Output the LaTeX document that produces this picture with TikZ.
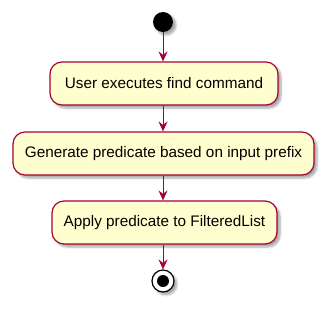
\documentclass[tikz,border=0pt]{standalone}
\usepackage{fontspec}
\setmainfont{Liberation Sans}
\definecolor{umlred}{HTML}{A80036}
\definecolor{umlcream}{HTML}{FEFECE}
\usetikzlibrary{arrows.meta,positioning,shadows.blur}

\tikzset{
  action/.style={draw=umlred, line width=1.2pt, fill=umlcream, rounded corners=12pt,
                 minimum height=43pt, inner sep=0pt, font=\fontsize{15.3}{18}\selectfont,
                 blur shadow={shadow xshift=3pt, shadow yshift=-3pt, shadow blur steps=6, shadow opacity=35}},
  flow/.style={-{Stealth[length=10pt, width=9pt, inset=3.5pt]}, umlred, line width=0.9pt}
}

\begin{document}
\begin{tikzpicture}[x=1pt, y=-1pt]
    \useasboundingbox (0,0) rectangle (327,309);
    % Start point
    \node[circle, fill=black, minimum size=20pt, inner sep=0pt,
          blur shadow={shadow xshift=3pt, shadow yshift=-3pt, shadow blur steps=6, shadow opacity=35}] (start) at (163,22) {};
    % Activities
    \node[action, minimum width=228pt] (exec) at (164,83.5) {User executes find command};
    \node[action, minimum width=301pt] (pred) at (163.5,153.5) {Generate predicate based on input prefix};
    \node[action, minimum width=225pt] (apply) at (164.5,222.5) {Apply predicate to FilteredList};
    % End point
    \node[circle, draw=black, line width=1.2pt, fill=white, minimum size=22pt, inner sep=0pt,
          blur shadow={shadow xshift=3pt, shadow yshift=-3pt, shadow blur steps=6, shadow opacity=35}] (stop) at (163,281) {};
    \node[circle, fill=black, minimum size=12pt, inner sep=0pt] at (stop.center) {};
    % Transitions
    \draw[flow] (start) -- (start |- exec.north);
    \draw[flow] (exec.south -| start) -- (start |- pred.north);
    \draw[flow] (pred.south -| start) -- (start |- apply.north);
    \draw[flow] (apply.south -| start) -- (stop);
\end{tikzpicture}
\end{document}
